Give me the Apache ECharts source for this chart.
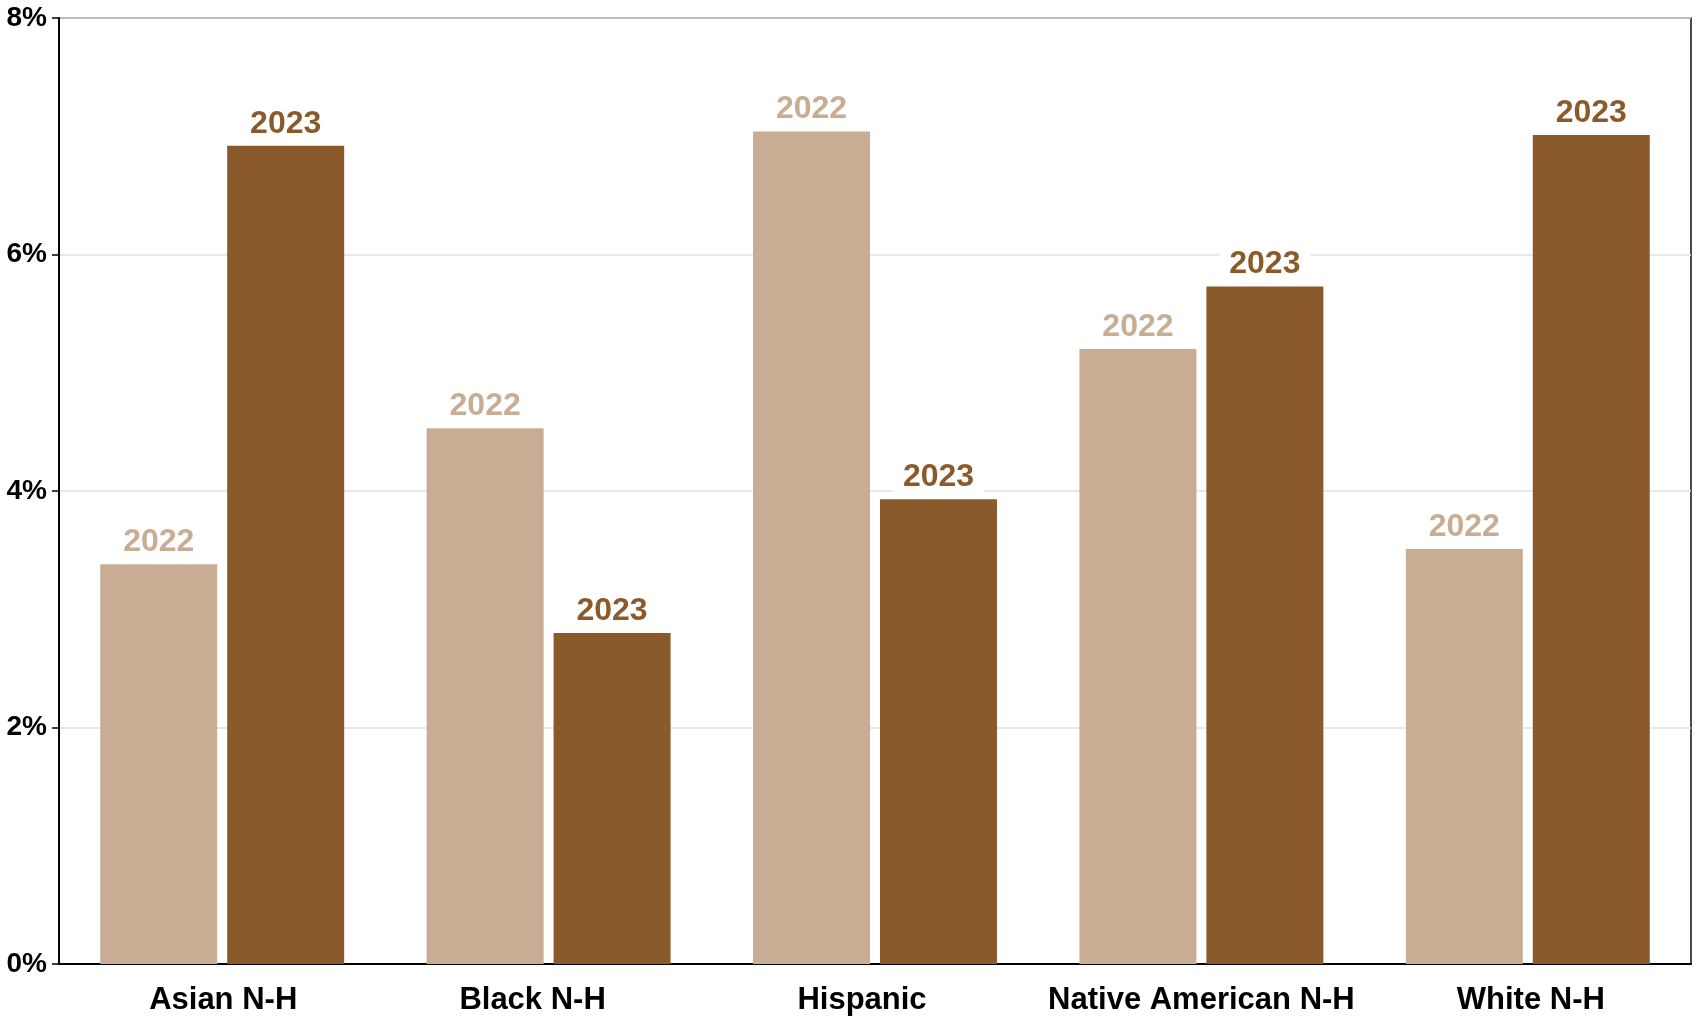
<!DOCTYPE html>
<html>
<head>
<meta charset="utf-8">
<script src="https://cdn.jsdelivr.net/npm/echarts@6/dist/echarts.min.js"></script>
<style>
html,body{margin:0;padding:0;background:#fff;}
#chart{width:1698px;height:1017px;}
</style>
</head>
<body>
<div id="chart"></div>
<script>
const categories = ['Asian N-H', 'Black N-H', 'Hispanic', 'Native American N-H', 'White N-H'];
const values2022 = [3.38, 4.53, 7.04, 5.20, 3.51];
const values2023 = [6.92, 2.80, 3.93, 5.73, 7.01];
const yTicks = [0, 2, 4, 6, 8];
const seriesNames = ['2022', '2023'];
const colors = ['#C8AD94', '#8B5A2B'];

const font = '"Liberation Sans", Arial, sans-serif';
const chart = echarts.init(document.getElementById('chart'));

// small horizontal nudges of the category labels, as in the original
const labelPads = [[0, 0, 0, 2], [0, 32, 0, 0], [0, 26, 0, 0], [0, 0, 0, 0], [0, 0, 0, 6]];
const rich = {};
labelPads.forEach((p, i) => {
  rich['c' + i] = { color: '#000', fontFamily: font, fontWeight: 'bold', fontSize: 31, padding: p };
});

function makeSeries(name, data, color) {
  return {
    name: name,
    type: 'bar',
    data: data,
    barWidth: 117,
    barGap: '8.5%',
    itemStyle: { color: color },
    label: {
      show: true,
      position: 'top',
      distance: 6,
      formatter: '{a}',
      color: color,
      fontFamily: font,
      fontWeight: 'bold',
      fontSize: 32,
      backgroundColor: '#ffffff',
      padding: [0, 10, 0, 10]
    }
  };
}

chart.setOption({
  animation: false,
  backgroundColor: '#ffffff',
  grid: {
    left: 59, right: 7, top: 18, bottom: 53,
    show: true, borderColor: '#111', borderWidth: 1.5
  },
  xAxis: {
    type: 'category',
    data: categories,
    axisLine: { show: true, lineStyle: { color: '#000', width: 2 } },
    axisTick: { show: false },
    axisLabel: {
      interval: 0,
      margin: 21,
      color: '#000', fontFamily: font, fontWeight: 'bold', fontSize: 31,
      formatter: (v, i) => '{c' + i + '|' + v + '}',
      rich: rich
    }
  },
  yAxis: {
    type: 'value',
    min: yTicks[0],
    max: yTicks[yTicks.length - 1],
    interval: 2,
    axisLine: { show: true, lineStyle: { color: '#000', width: 2 } },
    axisTick: { show: true, length: 7, lineStyle: { color: '#000', width: 1.5 } },
    axisLabel: {
      color: '#000', fontFamily: font, fontWeight: 'bold', fontSize: 28, margin: 12,
      formatter: v => v + '%'
    },
    splitLine: { show: true, lineStyle: { color: '#e0e0e0', width: 1.5 } }
  },
  series: [
    makeSeries(seriesNames[0], values2022, colors[0]),
    makeSeries(seriesNames[1], values2023, colors[1])
  ]
});
</script>
</body>
</html>
